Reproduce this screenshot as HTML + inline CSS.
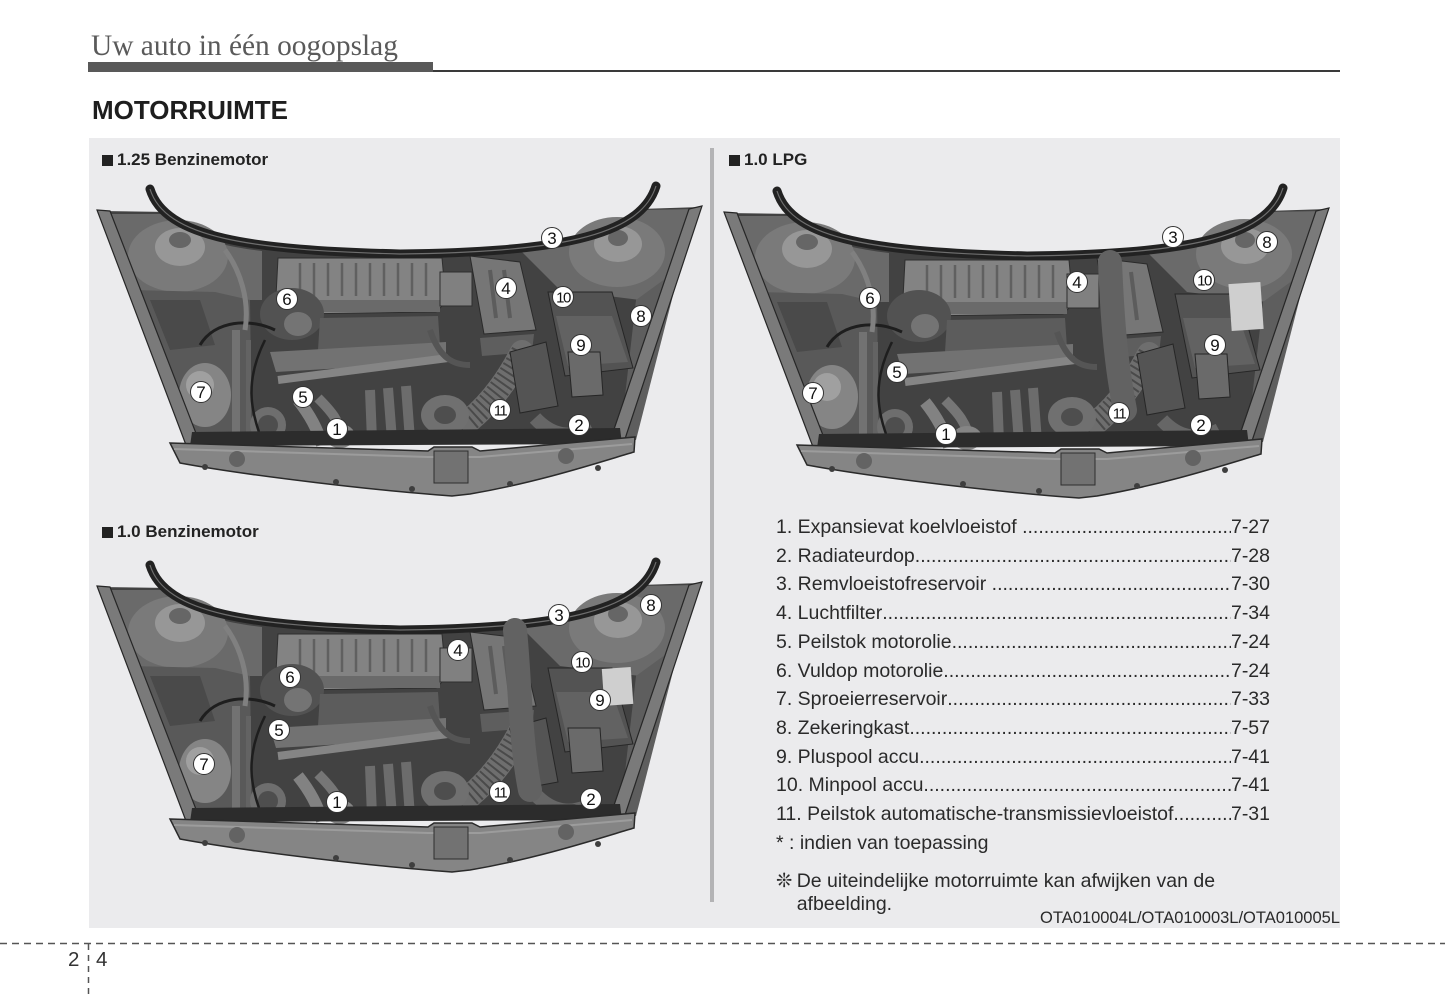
<!DOCTYPE html>
<html>
<head>
<meta charset="utf-8">
<style>
  html,body{margin:0;padding:0;}
  body{width:1445px;height:998px;position:relative;background:#ffffff;overflow:hidden;
       font-family:"Liberation Sans", Arial, sans-serif;color:#2a2a2a;}
  .abs{position:absolute;}
  #hdr{left:91px;top:31.5px;font-family:"Liberation Serif", "Times New Roman", serif;font-size:29.4px;line-height:29px;color:#5a5a5a;white-space:nowrap;}
  #bar{left:88px;top:62px;width:345px;height:10px;background:#595959;}
  #thin{left:433px;top:70px;width:907px;height:2px;background:#3a3a3a;}
  #title{left:92px;top:96.5px;font-weight:bold;font-size:26px;line-height:26px;color:#1e1e1e;white-space:nowrap;}
  #panel{left:89px;top:138px;width:1251px;height:790px;background:#ebebed;}
  #divider{left:710px;top:148px;width:4px;height:754px;background:#b3b3b5;}
  .sq{position:absolute;width:11px;height:11px;background:#222;}
  .cap{position:absolute;font-weight:bold;font-size:17px;line-height:20px;color:#222;white-space:nowrap;}
  #list{left:776px;top:513px;width:494px;font-size:19.5px;}
  .row{display:flex;height:28.73px;line-height:28.73px;white-space:nowrap;}
  .row .dots{flex:1 1 auto;overflow:hidden;white-space:nowrap;}
  .row .pg{flex:0 0 auto;}
  #foot{left:776px;top:869.7px;width:520px;font-size:19.5px;line-height:23px;}
  #ota{right:105px;top:908.5px;font-size:16.5px;line-height:19px;white-space:nowrap;color:#2a2a2a;}
  .pn{position:absolute;top:950.3px;font-size:20.5px;line-height:20.5px;color:#333;}
  svg{position:absolute;left:0;top:0;}
</style>
</head>
<body>
<div id="hdr" class="abs">Uw auto in één oogopslag</div>
<div id="bar" class="abs"></div>
<div id="thin" class="abs"></div>
<div id="title" class="abs">MOTORRUIMTE</div>
<div id="panel" class="abs"></div>
<div id="divider" class="abs"></div>

<div class="sq" style="left:102px;top:155px;"></div>
<div class="cap" style="left:117px;top:150px;">1.25 Benzinemotor</div>
<div class="sq" style="left:102px;top:527px;"></div>
<div class="cap" style="left:117px;top:522px;">1.0 Benzinemotor</div>
<div class="sq" style="left:729px;top:155px;"></div>
<div class="cap" style="left:744px;top:150px;">1.0 LPG</div>

<svg width="1445" height="998" viewBox="0 0 1445 998" xmlns="http://www.w3.org/2000/svg">
  <defs>
    <g id="eng">
      <!-- body -->
      <path d="M98,211 L170,212 C182,238 250,250 400,256 C552,252 620,236 640,209 L701,207 L623,444 L186,444 Z" fill="#424242"/>
      <!-- left cowl -->
      <path d="M104,214 L168,214 C180,236 220,246 262,251 L262,300 L140,300 L112,240 Z" fill="#6a6a6a"/>
      <!-- left tower -->
      <ellipse cx="178" cy="256" rx="50" ry="36" fill="#7a7a7a"/>
      <ellipse cx="180" cy="247" rx="25" ry="19" fill="#979797"/>
      <ellipse cx="180" cy="240" rx="11" ry="8" fill="#666"/>
      <!-- left apron -->
      <path d="M130,290 L215,292 L250,300 L252,440 L190,440 L150,350 Z" fill="#595959"/>
      <path d="M150,300 L200,300 L215,345 L170,350 Z" fill="#4a4a4a"/>
      <ellipse cx="205" cy="395" rx="26" ry="32" fill="#858585"/>
      <ellipse cx="200" cy="385" rx="14" ry="14" fill="#a0a0a0"/>
      <rect x="232" y="330" width="8" height="110" fill="#727272"/>
      <rect x="246" y="340" width="5" height="100" fill="#636363"/>
      <!-- right cowl -->
      <path d="M520,250 C560,245 615,235 638,210 L698,209 L680,270 L640,300 L560,290 Z" fill="#6a6a6a"/>
      <ellipse cx="617" cy="252" rx="48" ry="35" fill="#7a7a7a"/>
      <ellipse cx="618" cy="244" rx="24" ry="18" fill="#979797"/>
      <ellipse cx="618" cy="238" rx="10" ry="8" fill="#666"/>
      <path d="M636,300 L680,268 L636,440 L620,440 Z" fill="#5e5e5e"/>
      <!-- fender strips -->
      <path d="M97,210 L110,211 L199,441 L186,445 Z" fill="#7a7a7a" stroke="#262626" stroke-width="1.2"/>
      <path d="M702,206 L689,209 L610,441 L623,445 Z" fill="#7a7a7a" stroke="#262626" stroke-width="1.2"/>
      <!-- air filter housing -->
      <path d="M278,258 L442,258 L446,302 L436,312 L294,314 L276,296 Z" fill="#838383" stroke="#2e2e2e" stroke-width="1"/>
      <g stroke="#606060" stroke-width="2.5">
        <line x1="300" y1="263" x2="300" y2="296"/><line x1="314" y1="263" x2="314" y2="296"/>
        <line x1="328" y1="263" x2="328" y2="296"/><line x1="342" y1="263" x2="342" y2="296"/>
        <line x1="356" y1="263" x2="356" y2="296"/><line x1="370" y1="263" x2="370" y2="296"/>
        <line x1="384" y1="263" x2="384" y2="296"/><line x1="398" y1="263" x2="398" y2="296"/>
        <line x1="412" y1="263" x2="412" y2="296"/><line x1="426" y1="263" x2="426" y2="296"/>
      </g>
      <rect x="290" y="300" width="150" height="12" fill="#6a6a6a"/>
      <!-- oil filler area -->
      <ellipse cx="292" cy="314" rx="32" ry="26" fill="#525252"/>
      <ellipse cx="298" cy="324" rx="14" ry="12" fill="#747474"/>
      <!-- cylinder head -->
      <path d="M320,318 L438,316 L440,346 L318,350 Z" fill="#5c5c5c"/>
      <path d="M270,352 L446,342 L446,362 L276,372 Z" fill="#727272"/>
      <path d="M278,380 L448,358" stroke="#858585" stroke-width="8" fill="none"/>
      <!-- pipe filter->box -->
      <rect x="440" y="272" width="32" height="34" fill="#808080" stroke="#2e2e2e" stroke-width="1"/>
      <!-- air box 4 -->
      <path d="M470,256 L520,262 L536,330 L484,334 Z" fill="#767676" stroke="#2a2a2a" stroke-width="1"/>
      <path d="M490,270 L496,318 M504,270 L510,318" stroke="#5c5c5c" stroke-width="4"/>
      <path d="M480,338 L534,334 L532,352 L482,356 Z" fill="#5e5e5e"/>
      <!-- intake hose -->
      <path d="M522,352 Q500,395 470,420" stroke="#6e6e6e" stroke-width="24" fill="none" stroke-linecap="round"/>
      <path d="M522,352 Q500,395 470,420" stroke="#4a4a4a" stroke-width="22" fill="none" stroke-dasharray="2 4"/>
      <!-- throttle -->
      <ellipse cx="445" cy="415" rx="24" ry="20" fill="#707070"/>
      <ellipse cx="445" cy="415" rx="11" ry="9" fill="#4e4e4e"/>
      <!-- wedge box -->
      <path d="M510,352 L546,342 L558,406 L520,413 Z" fill="#545454" stroke="#262626" stroke-width="1"/>
      <!-- battery -->
      <path d="M548,292 L612,292 L633,368 L565,376 Z" fill="#535353" stroke="#262626" stroke-width="1"/>
      <path d="M556,316 L612,316 L628,362 L568,366 Z" fill="#626262"/>
      <path d="M568,352 L600,352 L603,395 L572,397 Z" fill="#6a6a6a" stroke="#262626" stroke-width="1"/>
      <!-- radiator hose / cap -->
      <path d="M535,418 Q560,445 592,428" stroke="#666" stroke-width="14" fill="none"/>
      <ellipse cx="579" cy="436" rx="14" ry="8" fill="#b0b0b0"/>
      <!-- lower left engine -->
      <circle cx="268" cy="425" r="18" fill="#6e6e6e"/>
      <circle cx="268" cy="425" r="10" fill="#4e4e4e"/>
      <path d="M298,400 C310,415 318,430 322,445" stroke="#828282" stroke-width="12" fill="none"/>
      <path d="M318,398 C330,410 340,420 345,445" stroke="#767676" stroke-width="10" fill="none"/>
      <ellipse cx="340" cy="436" rx="15" ry="12" fill="#858585"/>
      <path d="M370,390 L372,440 M388,388 L392,440 M406,386 L410,440" stroke="#6c6c6c" stroke-width="10" fill="none"/>
      <!-- wires -->
      <path d="M200,345 C215,320 250,318 275,330" stroke="#1e1e1e" stroke-width="3" fill="none"/>
      <path d="M265,340 C245,380 250,410 262,440" stroke="#1e1e1e" stroke-width="2.5" fill="none"/>
      <path d="M430,330 C440,360 455,365 470,365" stroke="#555" stroke-width="6" fill="none"/>
      <path d="M225,250 C240,270 250,300 245,330" stroke="#808080" stroke-width="5" fill="none"/>
      <!-- dark band above bumper -->
      <path d="M192,432 L620,428 L622,444 L190,446 Z" fill="#2c2c2c"/>
      <!-- bumper -->
      <path d="M170,443 L428,451 L434,447 L472,447 L480,451 L635,437 L634,452 C600,462 540,482 470,494 L452,496 C380,491 250,476 180,463 Z" fill="#858585" stroke="#2a2a2a" stroke-width="1.5"/>
      <path d="M174,449 L428,457 L480,457 L632,444" stroke="#9c9c9c" stroke-width="2" fill="none"/>
      <rect x="434" y="451" width="34" height="32" fill="#727272" stroke="#2e2e2e" stroke-width="1"/>
      <circle cx="237" cy="459" r="8" fill="#636363"/>
      <circle cx="566" cy="456" r="8" fill="#636363"/>
      <g fill="#3e3e3e">
        <circle cx="205" cy="467" r="3"/><circle cx="336" cy="482" r="3"/>
        <circle cx="412" cy="489" r="3"/><circle cx="510" cy="484" r="3"/><circle cx="598" cy="468" r="3"/>
      </g>
      <!-- hood seal -->
      <path d="M150,189 C165,238 250,250 400,254 C552,252 640,238 656,186" stroke="#222" stroke-width="9" fill="none" stroke-linecap="round"/>
      <path d="M150,189 C165,238 250,250 400,254 C552,252 640,238 656,186" stroke="#6e6e6e" stroke-width="1.2" fill="none"/>
    </g>
  </defs>

  <use href="#eng"/>
  <use href="#eng" transform="translate(0,376)"/>
  <use href="#eng" transform="translate(627,2)"/>

  <!-- image-specific extras -->
  <path d="M515,630 C520,680 520,740 530,790" stroke="#626262" stroke-width="24" fill="none" stroke-linecap="round"/>
  <rect x="603" y="668" width="29" height="37" fill="#cfcfcf" transform="rotate(-4 617 686)"/>
  <path d="M1110,262 C1112,310 1115,360 1125,410" stroke="#626262" stroke-width="24" fill="none" stroke-linecap="round"/>
  <rect x="1230" y="283" width="32" height="47" fill="#cfcfcf" transform="rotate(-4 1246 306)"/>

  <!-- labels -->
  <g font-family="Liberation Sans, Arial, sans-serif" text-anchor="middle" fill="#111">
    <g stroke="#333" stroke-width="1" fill="#ffffff">
      <circle cx="552" cy="238" r="10.5"/><circle cx="506" cy="288" r="10.5"/><circle cx="563" cy="297" r="10.5"/>
      <circle cx="287" cy="299" r="10.5"/><circle cx="641" cy="316" r="10.5"/><circle cx="581" cy="345" r="10.5"/>
      <circle cx="201" cy="392" r="10.5"/><circle cx="303" cy="397" r="10.5"/><circle cx="500" cy="410" r="10.5"/>
      <circle cx="337" cy="429" r="10.5"/><circle cx="579" cy="425" r="10.5"/>

      <circle cx="559" cy="615" r="10.5"/><circle cx="651" cy="605" r="10.5"/><circle cx="458" cy="650" r="10.5"/>
      <circle cx="582" cy="662" r="10.5"/><circle cx="290" cy="677" r="10.5"/><circle cx="600" cy="700" r="10.5"/>
      <circle cx="279" cy="730" r="10.5"/><circle cx="204" cy="764" r="10.5"/><circle cx="500" cy="792" r="10.5"/>
      <circle cx="337" cy="802" r="10.5"/><circle cx="591" cy="799" r="10.5"/>

      <circle cx="1173" cy="237" r="10.5"/><circle cx="1267" cy="242" r="10.5"/><circle cx="1077" cy="282" r="10.5"/>
      <circle cx="1204" cy="280" r="10.5"/><circle cx="870" cy="298" r="10.5"/><circle cx="1215" cy="345" r="10.5"/>
      <circle cx="897" cy="372" r="10.5"/><circle cx="813" cy="393" r="10.5"/><circle cx="1119" cy="413" r="10.5"/>
      <circle cx="946" cy="434" r="10.5"/><circle cx="1201" cy="425" r="10.5"/>
    </g>
    <g font-size="17">
      <text x="552" y="244">3</text><text x="506" y="294">4</text>
      <text x="287" y="305">6</text><text x="641" y="322">8</text><text x="581" y="351">9</text>
      <text x="201" y="398">7</text><text x="303" y="403">5</text>
      <text x="337" y="435">1</text><text x="579" y="431">2</text>

      <text x="559" y="621">3</text><text x="651" y="611">8</text><text x="458" y="656">4</text>
      <text x="290" y="683">6</text><text x="600" y="706">9</text>
      <text x="279" y="736">5</text><text x="204" y="770">7</text>
      <text x="337" y="808">1</text><text x="591" y="805">2</text>

      <text x="1173" y="243">3</text><text x="1267" y="248">8</text><text x="1077" y="288">4</text>
      <text x="870" y="304">6</text><text x="1215" y="351">9</text>
      <text x="897" y="378">5</text><text x="813" y="399">7</text>
      <text x="946" y="440">1</text><text x="1201" y="431">2</text>
    </g>
    <g font-size="15" letter-spacing="-1.5">
      <text x="563" y="302.5">10</text><text x="500" y="415.5">11</text>
      <text x="582" y="667.5">10</text><text x="500" y="797.5">11</text>
      <text x="1204" y="285.5">10</text><text x="1119" y="418.5">11</text>
    </g>
  </g>

  <!-- footer dashed lines -->
  <line x1="0" y1="943.5" x2="1445" y2="943.5" stroke="#555" stroke-width="1.5" stroke-dasharray="7 5"/>
  <line x1="88.5" y1="944" x2="88.5" y2="998" stroke="#555" stroke-width="1.5" stroke-dasharray="6 5"/>
</svg>

<div id="list" class="abs">
  <div class="row"><span>1. Expansievat koelvloeistof&nbsp;</span><span class="dots">....................................................................................................</span><span class="pg">7-27</span></div>
  <div class="row"><span>2. Radiateurdop</span><span class="dots">....................................................................................................</span><span class="pg">7-28</span></div>
  <div class="row"><span>3. Remvloeistofreservoir&nbsp;</span><span class="dots">....................................................................................................</span><span class="pg">7-30</span></div>
  <div class="row"><span>4. Luchtfilter</span><span class="dots">....................................................................................................</span><span class="pg">7-34</span></div>
  <div class="row"><span>5. Peilstok motorolie</span><span class="dots">....................................................................................................</span><span class="pg">7-24</span></div>
  <div class="row"><span>6. Vuldop motorolie</span><span class="dots">....................................................................................................</span><span class="pg">7-24</span></div>
  <div class="row"><span>7. Sproeierreservoir</span><span class="dots">....................................................................................................</span><span class="pg">7-33</span></div>
  <div class="row"><span>8. Zekeringkast</span><span class="dots">....................................................................................................</span><span class="pg">7-57</span></div>
  <div class="row"><span>9. Pluspool accu</span><span class="dots">....................................................................................................</span><span class="pg">7-41</span></div>
  <div class="row"><span>10. Minpool accu</span><span class="dots">....................................................................................................</span><span class="pg">7-41</span></div>
  <div class="row"><span>11. Peilstok automatische-transmissievloeistof</span><span class="dots">....................................................................................................</span><span class="pg">7-31</span></div>
  <div class="row"><span>* : indien van toepassing</span></div>
</div>

<div id="foot" class="abs">
  <div style="white-space:nowrap;"><span style="display:inline-block;width:20.7px;">❊</span>De uiteindelijke motorruimte kan afwijken van de</div>
  <div style="padding-left:20.7px;">afbeelding.</div>
</div>

<div id="ota" class="abs">OTA010004L/OTA010003L/OTA010005L</div>

<div class="pn" style="left:68px;">2</div>
<div class="pn" style="left:96px;">4</div>
</body>
</html>
